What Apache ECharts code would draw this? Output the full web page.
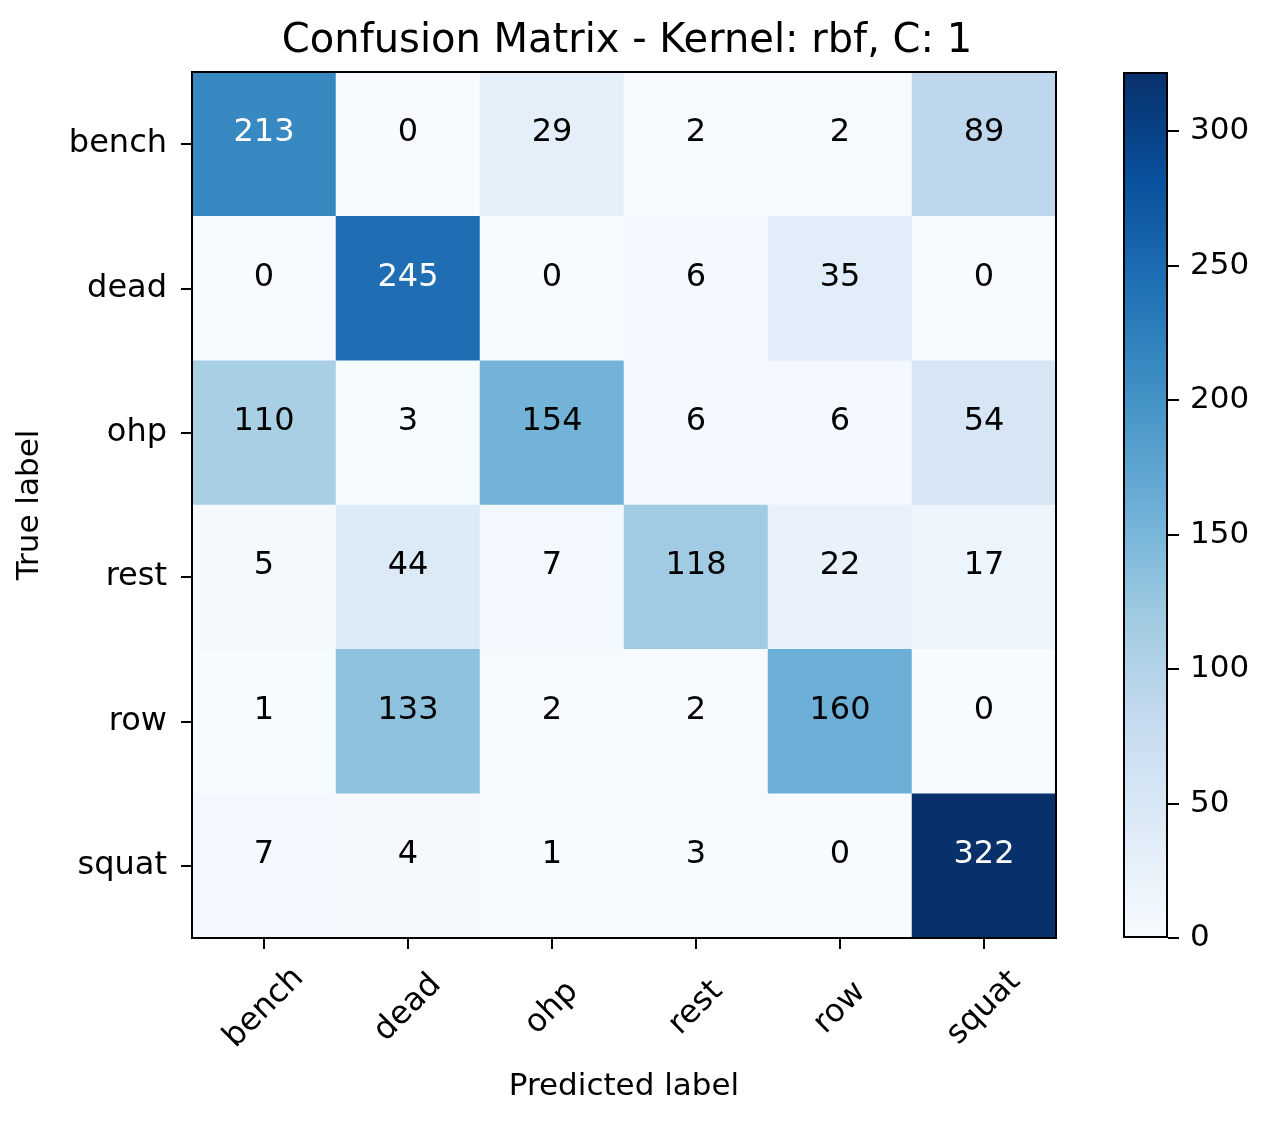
<!DOCTYPE html>
<html><head><meta charset="utf-8">
<script src="https://cdn.jsdelivr.net/npm/echarts@6/dist/echarts.min.js"></script>
<style>html,body{margin:0;padding:0;background:#fff;}#c{width:1270px;height:1122px;}</style>
</head><body><div id="c"></div>
<script>
const labels = ['bench','dead','ohp','rest','row','squat'];
const matrix = [
  [213, 0, 29, 2, 2, 89],
  [0, 245, 0, 6, 35, 0],
  [110, 3, 154, 6, 6, 54],
  [5, 44, 7, 118, 22, 17],
  [1, 133, 2, 2, 160, 0],
  [7, 4, 1, 3, 0, 322]
];
const colorbarTicks = [0, 50, 100, 150, 200, 250, 300];
const blues = ['#f7fbff','#deebf7','#c6dbef','#9ecae1','#6baed6','#4292c6','#2171b5','#08519c','#08306b'];

let maxV = 0;
matrix.forEach(r => r.forEach(v => { if (v > maxV) maxV = v; }));
const data = [];
matrix.forEach((row, i) => row.forEach((v, j) => data.push({value: [j, i, v], label: {color: v > maxV / 2 ? '#fff' : '#000'}})));

const FONT = 'DejaVu Sans';
const FS = 32;
const chart = echarts.init(document.getElementById('c'), null, {renderer: 'canvas'});
chart.setOption({
  animation: false,
  textStyle: {fontFamily: FONT},
  title: {text: 'Confusion Matrix - Kernel: rbf, C: 1', left: 622, top: 17, textAlign: 'center',
    textStyle: {fontFamily: FONT, fontSize: 40, fontWeight: 'normal', color: '#000'}},
  grid: [
    {left: 192, top: 72, width: 864, height: 866, show: true, borderColor: '#000', borderWidth: 2, backgroundColor: 'transparent', z: 5, outerBoundsMode: 'none', containLabel: false},
    {left: 1123, top: 72, width: 45, height: 866, show: false, outerBoundsMode: 'none', containLabel: false}
  ],
  xAxis: [
    {type: 'category', data: labels, gridIndex: 0, position: 'bottom', z: 10,
      name: 'Predicted label', nameLocation: 'middle', nameGap: 133,
      nameTextStyle: {fontFamily: FONT, fontSize: 31, color: '#000'},
      axisLine: {show: true, lineStyle: {color: '#000', width: 2}},
      axisTick: {show: true, alignWithLabel: true, length: 11, lineStyle: {color: '#000', width: 2}},
      axisLabel: {rotate: 45, fontSize: FS, color: '#000', fontFamily: FONT, align: 'center', verticalAlign: 'middle', margin: 70},
      splitLine: {show: false}},
    {type: 'category', data: ['cb'], gridIndex: 1, show: false}
  ],
  yAxis: [
    {type: 'category', data: labels, gridIndex: 0, inverse: true, z: 10,
      name: 'True label', nameLocation: 'middle', nameGap: 147, nameRotate: 90,
      nameTextStyle: {fontFamily: FONT, fontSize: 31, color: '#000'},
      axisLine: {show: true, lineStyle: {color: '#000', width: 2}},
      axisTick: {show: true, alignWithLabel: true, length: 11, lineStyle: {color: '#000', width: 2}},
      axisLabel: {fontSize: FS, color: '#000', fontFamily: FONT, margin: 25},
      splitLine: {show: false}},
    {type: 'value', gridIndex: 1, position: 'right', min: 0, max: maxV, interval: 50, z: 10,
      axisLine: {show: false},
      axisTick: {show: true, length: 11, lineStyle: {color: '#000', width: 2}},
      axisLabel: {fontSize: 31, color: '#000', fontFamily: FONT, margin: 22, showMaxLabel: false},
      splitLine: {show: false}}
  ],
  visualMap: {show: false, min: 0, max: maxV, seriesIndex: 0, inRange: {color: blues}},
  series: [
    {type: 'heatmap', xAxisIndex: 0, yAxisIndex: 0, data: data, z: 1,
      label: {show: true, fontSize: FS, fontFamily: FONT, offset: [0, -11],
        formatter: p => String(p.value[2])},
      itemStyle: {borderWidth: 0}},
    {type: 'bar', xAxisIndex: 1, yAxisIndex: 1, data: [maxV], barWidth: '100%', silent: true,
      itemStyle: {borderColor: '#000', borderWidth: 2,
        color: new echarts.graphic.LinearGradient(0, 1, 0, 0,
        blues.map((c, i) => ({offset: i / (blues.length - 1), color: c})))}}
  ]
});
</script></body></html>
